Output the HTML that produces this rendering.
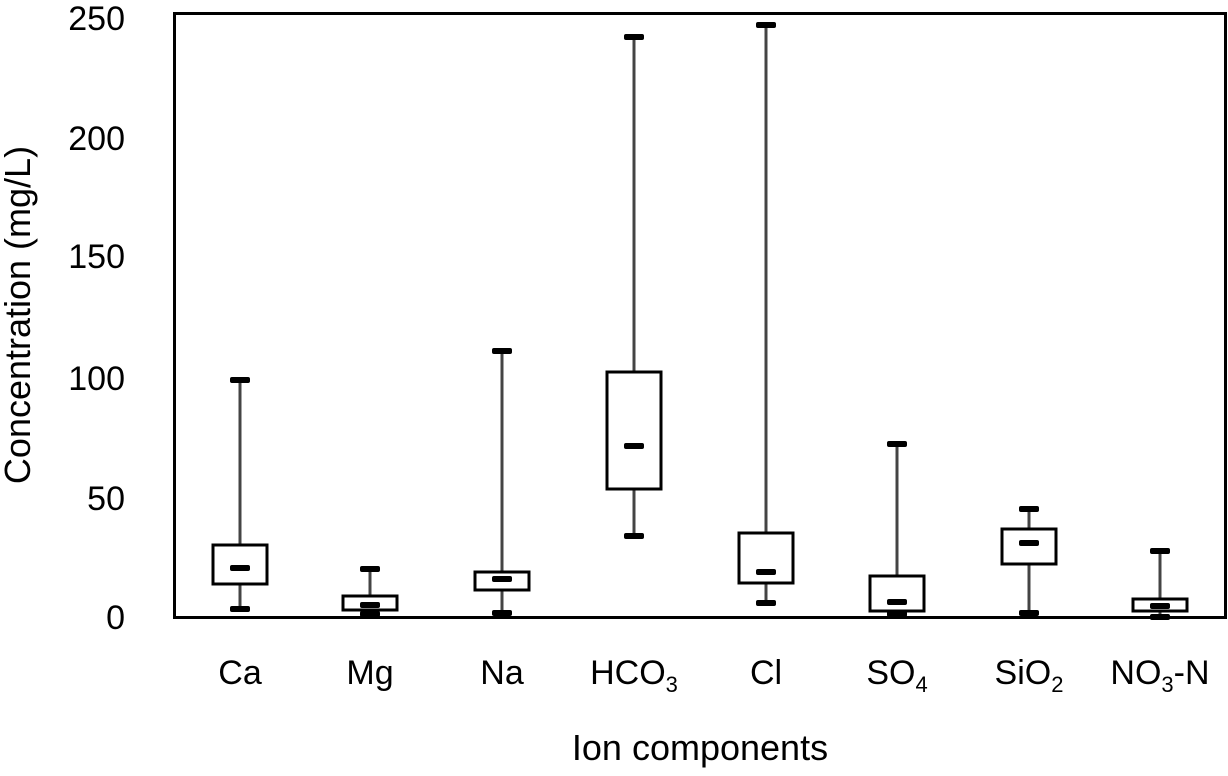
<!DOCTYPE html>
<html><head><style>body{margin:0;background:#fff}</style></head><body>
<svg width="1228" height="771" xmlns="http://www.w3.org/2000/svg" font-family="Liberation Sans, DejaVu Sans, sans-serif">
<rect x="0" y="0" width="1228" height="771" fill="#fff"/>
<g font-size="34" fill="#000" text-anchor="end">
<text x="125" y="30">250</text><text x="125" y="150">200</text><text x="125" y="268">150</text>
<text x="125" y="390">100</text><text x="125" y="510">50</text><text x="125" y="629">0</text>
</g>
<text transform="translate(30,315) rotate(-90)" font-size="36" text-anchor="middle">Concentration (mg/L)</text>
<text x="700" y="760" font-size="36" text-anchor="middle">Ion components</text>
<g font-size="34" text-anchor="middle">
<text x="240" y="684">Ca</text><text x="370" y="684">Mg</text><text x="502" y="684">Na</text>
<text x="634" y="684">HCO<tspan font-size="22" dy="8">3</tspan></text>
<text x="766" y="684">Cl</text>
<text x="897" y="684">SO<tspan font-size="22" dy="8">4</tspan></text>
<text x="1029" y="684">SiO<tspan font-size="22" dy="8">2</tspan></text>
<text x="1160" y="684">NO<tspan font-size="22" dy="8">3</tspan><tspan dy="-8">-N</tspan></text>
</g>
<g stroke="#444" stroke-width="3">
<line x1="240" x2="240" y1="380" y2="609"/>
<line x1="370" x2="370" y1="569" y2="614"/>
<line x1="502" x2="502" y1="351" y2="613"/>
<line x1="634" x2="634" y1="37" y2="536"/>
<line x1="766" x2="766" y1="25" y2="603"/>
<line x1="897" x2="897" y1="444" y2="614"/>
<line x1="1029" x2="1029" y1="509" y2="613"/>
<line x1="1160" x2="1160" y1="551" y2="617"/>
</g>
<g fill="#fff" stroke="#000" stroke-width="3">
<rect x="213" y="545" width="54" height="39"/>
<rect x="343" y="596" width="54" height="14"/>
<rect x="475" y="572" width="54" height="18"/>
<rect x="607" y="372" width="54" height="117"/>
<rect x="739" y="533" width="54" height="50"/>
<rect x="870" y="576" width="54" height="35"/>
<rect x="1002" y="529" width="54" height="35"/>
<rect x="1133" y="599" width="54" height="12"/>
</g>
<g fill="#000">
<rect x="230" y="377" width="20" height="6" rx="2"/><rect x="230" y="565" width="20" height="6" rx="2"/><rect x="230" y="606" width="20" height="6" rx="2"/>
<rect x="360" y="566" width="20" height="6" rx="2"/><rect x="360" y="602" width="20" height="6" rx="2"/><rect x="360" y="611" width="20" height="6" rx="2"/>
<rect x="492" y="348" width="20" height="6" rx="2"/><rect x="492" y="576" width="20" height="6" rx="2"/><rect x="492" y="610" width="20" height="6" rx="2"/>
<rect x="624" y="34" width="20" height="6" rx="2"/><rect x="624" y="443" width="20" height="6" rx="2"/><rect x="624" y="533" width="20" height="6" rx="2"/>
<rect x="756" y="22" width="20" height="6" rx="2"/><rect x="756" y="569" width="20" height="6" rx="2"/><rect x="756" y="600" width="20" height="6" rx="2"/>
<rect x="887" y="441" width="20" height="6" rx="2"/><rect x="887" y="599" width="20" height="6" rx="2"/><rect x="887" y="611" width="20" height="6" rx="2"/>
<rect x="1019" y="506" width="20" height="6" rx="2"/><rect x="1019" y="540" width="20" height="6" rx="2"/><rect x="1019" y="610" width="20" height="6" rx="2"/>
<rect x="1150" y="548" width="20" height="6" rx="2"/><rect x="1150" y="603" width="20" height="6" rx="2"/><rect x="1150" y="614" width="20" height="6" rx="2"/>
</g>
<rect x="174.5" y="13.5" width="1051" height="604" fill="none" stroke="#000" stroke-width="3"/>
</svg>
</body></html>
